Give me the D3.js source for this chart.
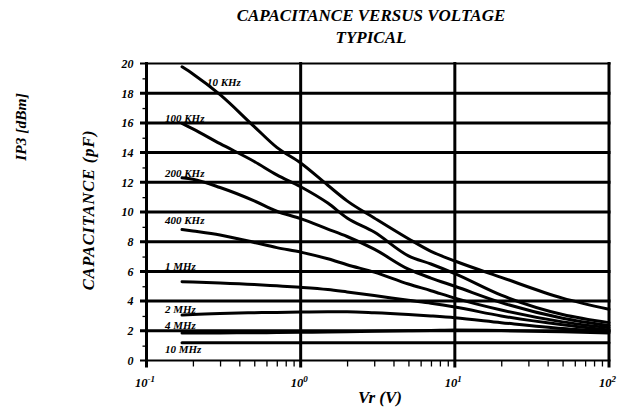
<!DOCTYPE html>
<html><head><meta charset="utf-8">
<script src="https://cdn.jsdelivr.net/npm/d3@7"></script>
<style>
body{margin:0;background:#fff}
svg{display:block}
text{font-family:"Liberation Serif","Times New Roman",serif;font-weight:bold;font-style:italic;fill:#000}
</style></head><body>
<svg id="c" width="618" height="408"></svg>
<script>
// ---- data ----
const voltages = [0.17,0.2,0.3,0.5,0.7,1,1.5,2,3,5,7,10,20,50,100];
const seriesNames = ["10 KHz","100 KHz","200 KHz","400 KHz","1 MHz","2 MHz","4 MHz","10 MHz"];
const cap10k  = [19.78,19.3,17.9,15.75,14.35,13.3,11.8,10.75,9.6,8.2,7.35,6.7,5.6,4.2,3.45];
const cap100k = [15.97,15.6,14.6,13.4,12.5,11.7,10.6,9.6,8.65,7.05,6.5,5.85,4.4,3.1,2.55];
const cap200k = [12.3,12.2,11.65,10.75,10.05,9.55,8.85,8.35,7.5,6.15,5.55,5.0,3.9,2.85,2.35];
const cap400k = [8.82,8.72,8.45,7.95,7.6,7.3,6.85,6.45,5.95,5.15,4.7,4.2,3.4,2.6,2.2];
const cap1m   = [5.3,5.28,5.22,5.12,5.03,4.93,4.78,4.62,4.38,4.05,3.85,3.6,3.0,2.4,2.05];
const cap2m   = [3.06,3.1,3.17,3.22,3.24,3.26,3.28,3.28,3.22,3.1,3.0,2.88,2.55,2.15,1.95];
const cap4m   = [1.85,1.85,1.86,1.87,1.88,1.9,1.92,1.94,1.97,2.0,2.02,2.05,2.02,1.93,1.85];
const cap10m  = [1.2,1.2,1.2,1.2,1.2,1.2,1.2,1.2,1.2,1.2,1.2,1.2,1.2,1.2,1.2];
const allSeries = [cap10k,cap100k,cap200k,cap400k,cap1m,cap2m,cap4m,cap10m];
// label anchor (voltage, capacitance) for each series label
const labelV = [0.2466,0.1318,0.1318,0.1318,0.1318,0.1318,0.1318,0.1318];
const labelC = [18.5,16.05,12.36,9.19,6.09,3.2,2.09,0.5];
const yTickVals = [0,2,4,6,8,10,12,14,16,18,20];
const yMinorVals = [1,3,5,7,9,11,13,15,17,19];
const xDecades = [0.1,1,10,100];
const xExponents = ["-1","0","1","2"];
const titleLines = ["CAPACITANCE VERSUS VOLTAGE","TYPICAL"];
const xTitle = "Vr (V)";
const yTitle = "CAPACITANCE (pF)";
const y2Title = "IP3 [dBm]";

// ---- layout ----
const svg = d3.select("#c");
const x = d3.scaleLog().domain([0.1,100]).range([146.5,609]);
const y = d3.scaleLinear().domain([0,20]).range([360.5,63.5]);

const xMinor = [];
[0.1,1,10].forEach(d=>{for(let k=2;k<=9;k++) xMinor.push(d*k);});

// horizontal grid
svg.append("g").selectAll("line").data(yTickVals).join("line")
  .attr("x1",140).attr("x2",x(100)+1.5)
  .attr("y1",d=>y(d)).attr("y2",d=>y(d))
  .attr("stroke","#000").attr("stroke-width",d=>(d===0||d===20)?2:3);

// vertical grid / axis lines
svg.append("g").selectAll("line").data(xDecades).join("line")
  .attr("x1",d=>x(d)).attr("x2",d=>x(d))
  .attr("y1",y(20)-1.5).attr("y2",y(0)+7)
  .attr("stroke","#000").attr("stroke-width",3);

// minor ticks y
svg.append("g").call(d3.axisLeft(y).tickValues(yMinorVals).tickSize(4).tickFormat(""))
  .attr("transform","translate(146.5,0)")
  .call(g=>{g.select(".domain").remove();g.selectAll("line").attr("stroke-width",1.3);});

// minor ticks x
svg.append("g").call(d3.axisBottom(x).tickValues(xMinor).tickSize(6).tickFormat(""))
  .attr("transform","translate(0,"+y(0)+")")
  .call(g=>{g.select(".domain").remove();g.selectAll("line").attr("stroke-width",1.3);});

// y tick labels
svg.append("g").call(d3.axisLeft(y).tickValues(yTickVals).tickSize(0).tickPadding(13))
  .attr("transform","translate(146.5,0)")
  .call(g=>{g.select(".domain").remove();
    g.selectAll("text").attr("font-size",12).attr("font-family",null);});

// x tick labels with superscripts
const xa = svg.append("g").call(d3.axisBottom(x).tickValues(xDecades).tickSize(0).tickFormat(""))
  .attr("transform","translate(0,"+y(0)+")");
xa.select(".domain").remove();
xa.selectAll(".tick").each(function(d,i){
  const t = d3.select(this).append("text").attr("y",26).attr("text-anchor","middle").attr("x",-2);
  t.append("tspan").attr("font-size",12.5).text("10");
  t.append("tspan").attr("font-size",9).attr("dy",-5).text(xExponents[i]);
});

// curves
const line = d3.line().x((d,i)=>x(voltages[i])).y(d=>y(d)).curve(d3.curveMonotoneX);
svg.append("g").selectAll("path").data(allSeries).join("path")
  .attr("d",line).attr("fill","none").attr("stroke","#000").attr("stroke-width",3)
  .attr("stroke-linecap","round");

// curve labels
svg.append("g").selectAll("text").data(seriesNames).join("text")
  .attr("x",(d,i)=>x(labelV[i])).attr("y",(d,i)=>y(labelC[i]))
  .attr("font-size",11).text(d=>d);

// titles
svg.append("text").attr("x",371).attr("y",21).attr("text-anchor","middle").attr("font-size",17).text(titleLines[0]);
svg.append("text").attr("x",371).attr("y",43).attr("text-anchor","middle").attr("font-size",17).text(titleLines[1]);
svg.append("text").attr("x",380).attr("y",403).attr("text-anchor","middle").attr("font-size",17).text(xTitle);
svg.append("text").attr("transform","translate(94,210) rotate(-90)").attr("text-anchor","middle")
  .attr("font-size",16.5).attr("letter-spacing",0.8).text(yTitle);
svg.append("text").attr("transform","translate(26,127) rotate(-90)").attr("text-anchor","middle").attr("font-size",15.5).text(y2Title);
</script>
</body></html>
